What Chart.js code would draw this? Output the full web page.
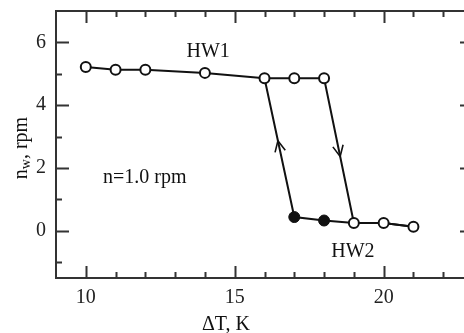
<!DOCTYPE html>
<html>
<head>
<meta charset="utf-8">
<script src="https://cdn.jsdelivr.net/npm/chart.js@4/dist/chart.umd.min.js"></script>
<style>
  html, body { margin: 0; padding: 0; background: #fff; overflow: hidden; }
  #wrap { width: 480px; height: 333px; }
</style>
</head>
<body>
<div id="wrap"><canvas id="myChart" width="480" height="333"></canvas></div>
<script>
// data
const heatX = [10, 11, 12, 14, 16, 17, 18, 19, 20, 21];
const heatY = [5.22, 5.13, 5.13, 5.03, 4.86, 4.86, 4.86, 0.25, 0.25, 0.13];
const coolX = [21, 20, 19, 18, 17, 16];
const coolY = [0.13, 0.25, 0.25, 0.33, 0.44, 4.86];
const coolFilled = [false, false, false, true, true, false];

const xTicks = [10, 15, 20];
const xMinorTicks = [10, 11, 12, 13, 14, 15, 16, 17, 18, 19, 20, 21, 22];
const yTicks = [0, 2, 4, 6];
const yMinorTicks = [-1, 0, 1, 2, 3, 4, 5, 6];

const notes = [
  { text: "HW1", x: 14.11, y: 5.52 },
  { text: "HW2", x: 18.97, y: -0.82 },
  { text: "n=1.0 rpm", x: 11.98, y: 1.53 },
];

const serif = "'Liberation Serif', 'Times New Roman', serif";
const ink = "#111";

Chart.defaults.font.family = serif;
Chart.defaults.font.size = 20;
Chart.defaults.color = "#222";

function toPoints(xs, ys) {
  return xs.map(function (x, i) {
    return { x: x, y: ys[i] };
  });
}

function arrow(ctx, x1, y1, x2, y2, t) {
  // arrow head at fraction t along segment, pointing towards (x2, y2)
  const px = x1 + (x2 - x1) * t;
  const py = y1 + (y2 - y1) * t;
  const ang = Math.atan2(y2 - y1, x2 - x1);
  const len = 12;
  const spread = 0.45;
  ctx.beginPath();
  ctx.moveTo(px - len * Math.cos(ang - spread), py - len * Math.sin(ang - spread));
  ctx.lineTo(px, py);
  ctx.lineTo(px - len * Math.cos(ang + spread), py - len * Math.sin(ang + spread));
  ctx.stroke();
}

const framePlugin = {
  id: "frame",
  afterDraw: function (chart) {
    const ctx = chart.ctx;
    const a = chart.chartArea;
    const xs = chart.scales.x;
    const ys = chart.scales.y;
    ctx.save();
    ctx.strokeStyle = "#333";
    ctx.lineWidth = 2;
    ctx.strokeRect(a.left, a.top, a.right - a.left, a.bottom - a.top);

    // inner ticks
    ctx.beginPath();
    xMinorTicks.forEach(function (v) {
      const len = xTicks.includes(v) ? 12 : 6;
      const p = Math.round(xs.getPixelForValue(v)) + 0.5;
      ctx.moveTo(p, a.bottom);
      ctx.lineTo(p, a.bottom - len);
      ctx.moveTo(p, a.top);
      ctx.lineTo(p, a.top + len);
    });
    yMinorTicks.forEach(function (v) {
      const len = yTicks.includes(v) ? 13 : 6;
      const p = Math.round(ys.getPixelForValue(v)) + 0.5;
      ctx.moveTo(a.left, p);
      ctx.lineTo(a.left + len, p);
      ctx.moveTo(a.right, p);
      ctx.lineTo(a.right - len, p);
    });
    ctx.stroke();

    // arrows on the jump lines
    ctx.strokeStyle = ink;
    ctx.lineWidth = 1.6;
    arrow(ctx,
      xs.getPixelForValue(coolX[4]), ys.getPixelForValue(coolY[4]),
      xs.getPixelForValue(coolX[5]), ys.getPixelForValue(coolY[5]), 0.55);
    arrow(ctx,
      xs.getPixelForValue(heatX[6]), ys.getPixelForValue(heatY[6]),
      xs.getPixelForValue(heatX[7]), ys.getPixelForValue(heatY[7]), 0.54);

    // notes
    ctx.fillStyle = ink;
    ctx.font = "20px " + serif;
    ctx.textAlign = "center";
    ctx.textBaseline = "alphabetic";
    notes.forEach(function (n) {
      ctx.fillText(n.text, xs.getPixelForValue(n.x), ys.getPixelForValue(n.y));
    });

    // x axis title
    ctx.fillText("\u0394T, K", 226, 330);

    // y axis title with subscript
    ctx.translate(27, 148);
    ctx.rotate(-Math.PI / 2);
    ctx.textAlign = "left";
    const main = "n";
    const sub = "w";
    const rest = ", rpm";
    ctx.font = "20px " + serif;
    const wMain = ctx.measureText(main).width;
    const wRest = ctx.measureText(rest).width;
    ctx.font = "14px " + serif;
    const wSub = ctx.measureText(sub).width;
    const x0 = -(wMain + wSub + wRest) / 2;
    ctx.font = "20px " + serif;
    ctx.fillText(main, x0, 0);
    ctx.font = "14px " + serif;
    ctx.fillText(sub, x0 + wMain, 3);
    ctx.font = "20px " + serif;
    ctx.fillText(rest, x0 + wMain + wSub, 0);
    ctx.restore();
  },
};

const ctx = document.getElementById("myChart").getContext("2d");
const myChart = new Chart(ctx, {
  type: "scatter",
  data: {
    datasets: [
      {
        label: "heating",
        data: toPoints(heatX, heatY),
        showLine: true,
        borderColor: ink,
        borderWidth: 2,
        pointRadius: 5,
        pointBorderWidth: 2,
        pointBackgroundColor: "#fff",
        pointBorderColor: ink,
      },
      {
        label: "cooling",
        data: toPoints(coolX, coolY),
        showLine: true,
        borderColor: ink,
        borderWidth: 2,
        pointRadius: coolFilled.map(function (f) { return f ? 5.5 : 0; }),
        pointBorderWidth: 1,
        pointBackgroundColor: ink,
        pointBorderColor: ink,
      },
    ],
  },
  options: {
    responsive: false,
    animation: false,
    events: [],
    layout: { padding: { left: 0, top: 0, right: 7, bottom: 0 } },
    plugins: {
      legend: { display: false },
      tooltip: { enabled: false },
    },
    scales: {
      x: {
        type: "linear",
        min: 9,
        max: 23,
        grid: { display: false },
        border: { display: false },
        afterBuildTicks: function (scale) {
          scale.ticks = xTicks.map(function (v) { return { value: v }; });
        },
        afterFit: function (scale) {
          scale.height = 55;
        },
        ticks: {
          padding: 0,
          color: "#222",
          font: { family: serif, size: 20 },
        },
      },
      y: {
        type: "linear",
        min: -1.5,
        max: 7,
        grid: { display: false },
        border: { display: false },
        afterBuildTicks: function (scale) {
          scale.ticks = yTicks.map(function (v) { return { value: v }; });
        },
        afterFit: function (scale) {
          scale.width = 56;
        },
        ticks: {
          padding: 2,
          color: "#222",
          font: { family: serif, size: 20, lineHeight: 0.9 },
        },
      },
    },
  },
  plugins: [framePlugin],
});
</script>
</body>
</html>
